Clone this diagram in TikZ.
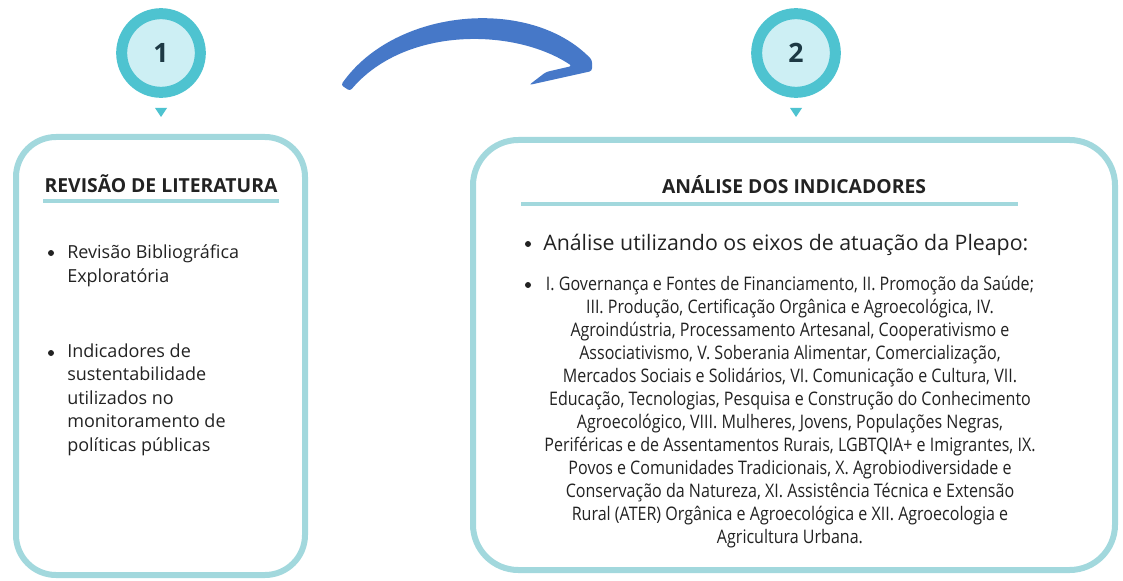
\documentclass[tikz,border=0pt]{standalone}
\usepackage{fontspec}
\setmainfont{Open Sans}
\newfontfamily\condfont[FakeStretch=0.86]{Open Sans}
\usepackage{tikz}
\usetikzlibrary{positioning}

\definecolor{ring}{HTML}{4EC3D0}
\definecolor{ringfill}{HTML}{CDEFF4}
\definecolor{frame}{HTML}{A2D8DD}
\definecolor{arrowblue}{HTML}{4678C8}
\definecolor{txt}{HTML}{222222}
\definecolor{numtxt}{HTML}{1D3944}

\begin{document}
\begin{tikzpicture}[x=0.75pt, y=-0.75pt,
                    badge/.style={circle,
                                  fill=ringfill,
                                  draw=ring,
                                  line width=8.25pt,
                                  minimum size=59pt,
                                  inner sep=0pt,
                                  text=numtxt,
                                  font=\bfseries\fontsize{20}{20}\selectfont},
                    frame/.style={draw=frame, line width=4.5pt, rounded corners=30pt},
                    rule/.style={draw=frame, line width=3pt},
                    title/.style={anchor=base, text=txt, inner sep=0pt,
                                  font=\bfseries\fontsize{14.5}{17}\selectfont},
                    item/.style={anchor=base west, align=left, text=txt, inner sep=0pt,
                                 font=\fontsize{13.5}{17.6}\selectfont},
                    dot/.style={circle, fill=txt, inner sep=0pt, minimum size=4.5pt}]

                      \useasboundingbox (0,0) rectangle (1123,581);

                      % step badges
                      \node[badge] (c1) at (161, 53) {1};
                      \node[badge] (c2) at (796, 53) {2};
                      \fill[ring] (155,108) -- (167,108) -- (161,117) -- cycle;
                      \fill[ring] (790,108) -- (802,108) -- (796,117) -- cycle;

                      % arrow (hand-drawn look)
                      \coordinate (arrtail) at (345, 88);
                      \coordinate (arrtip) at (592, 60);
                      \coordinate (barb) at (529, 85);
                      \fill[arrowblue, rounded corners=2pt] (arrtail) ++(-4,-3)
                          .. controls (395,8) and (530,-4) .. (arrtip)
                          -- (592,71) -- (barb) -- (546,72)
                          -- (572,66) .. controls (515,28) and (405,26) .. (350,91) -- cycle;

                      % boxes
                      \draw[frame] (16,137) rectangle (305,575);
                      \draw[frame, rounded corners=34pt] (473,140) rectangle (1115,570);

                      % left box
                      \node[title] (revt) at (161, 192) {REVISÃO DE LITERATURA};
                      \draw[rule] (43,201) -- (279,201);
                      \node[dot] (d1) at (51, 253) {};
                      \node[item] (rev1) at (67, 282) {Revisão Bibliográfica\\Exploratória};
                      \node[dot] (d2) at (51, 353) {};
                      \node[item] (rev2) at (67, 451) {Indicadores de\\sustentabilidade\\utilizados no\\monitoramento de\\políticas públicas};

                      % right box
                      \node[title] (anat) at (794, 193) {ANÁLISE DOS INDICADORES};
                      \draw[rule] (521,204) -- (1018,204);
                      \node[dot] (d3) at (528, 244) {};
                      \node[item, font=\fontsize{16}{19}\selectfont] (ana1) at (543, 250) {Análise utilizando os eixos de atuação da Pleapo:};
                      \node[dot] (d4) at (528, 285) {};
                      \node[anchor=base, align=center, text=txt, inner sep=0pt,
                            font=\condfont\fontsize{14}{17.25}\selectfont] (ana2) at (790, 543)
                           {I. Governança e Fontes de Financiamento, II. Promoção da Saúde;\\
                            III. Produção, Certificação Orgânica e Agroecológica, IV.\\
                            Agroindústria, Processamento Artesanal, Cooperativismo e\\
                            Associativismo, V. Soberania Alimentar, Comercialização,\\
                            Mercados Sociais e Solidários, VI. Comunicação e Cultura, VII.\\
                            Educação, Tecnologias, Pesquisa e Construção do Conhecimento\\
                            Agroecológico, VIII. Mulheres, Jovens, Populações Negras,\\
                            Periféricas e de Assentamentos Rurais, LGBTQIA+ e Imigrantes, IX.\\
                            Povos e Comunidades Tradicionais, X. Agrobiodiversidade e\\
                            Conservação da Natureza, XI. Assistência Técnica e Extensão\\
                            Rural (ATER) Orgânica e Agroecológica e XII. Agroecologia e\\
                            Agricultura Urbana.};
                  \end{tikzpicture}
\end{document}
